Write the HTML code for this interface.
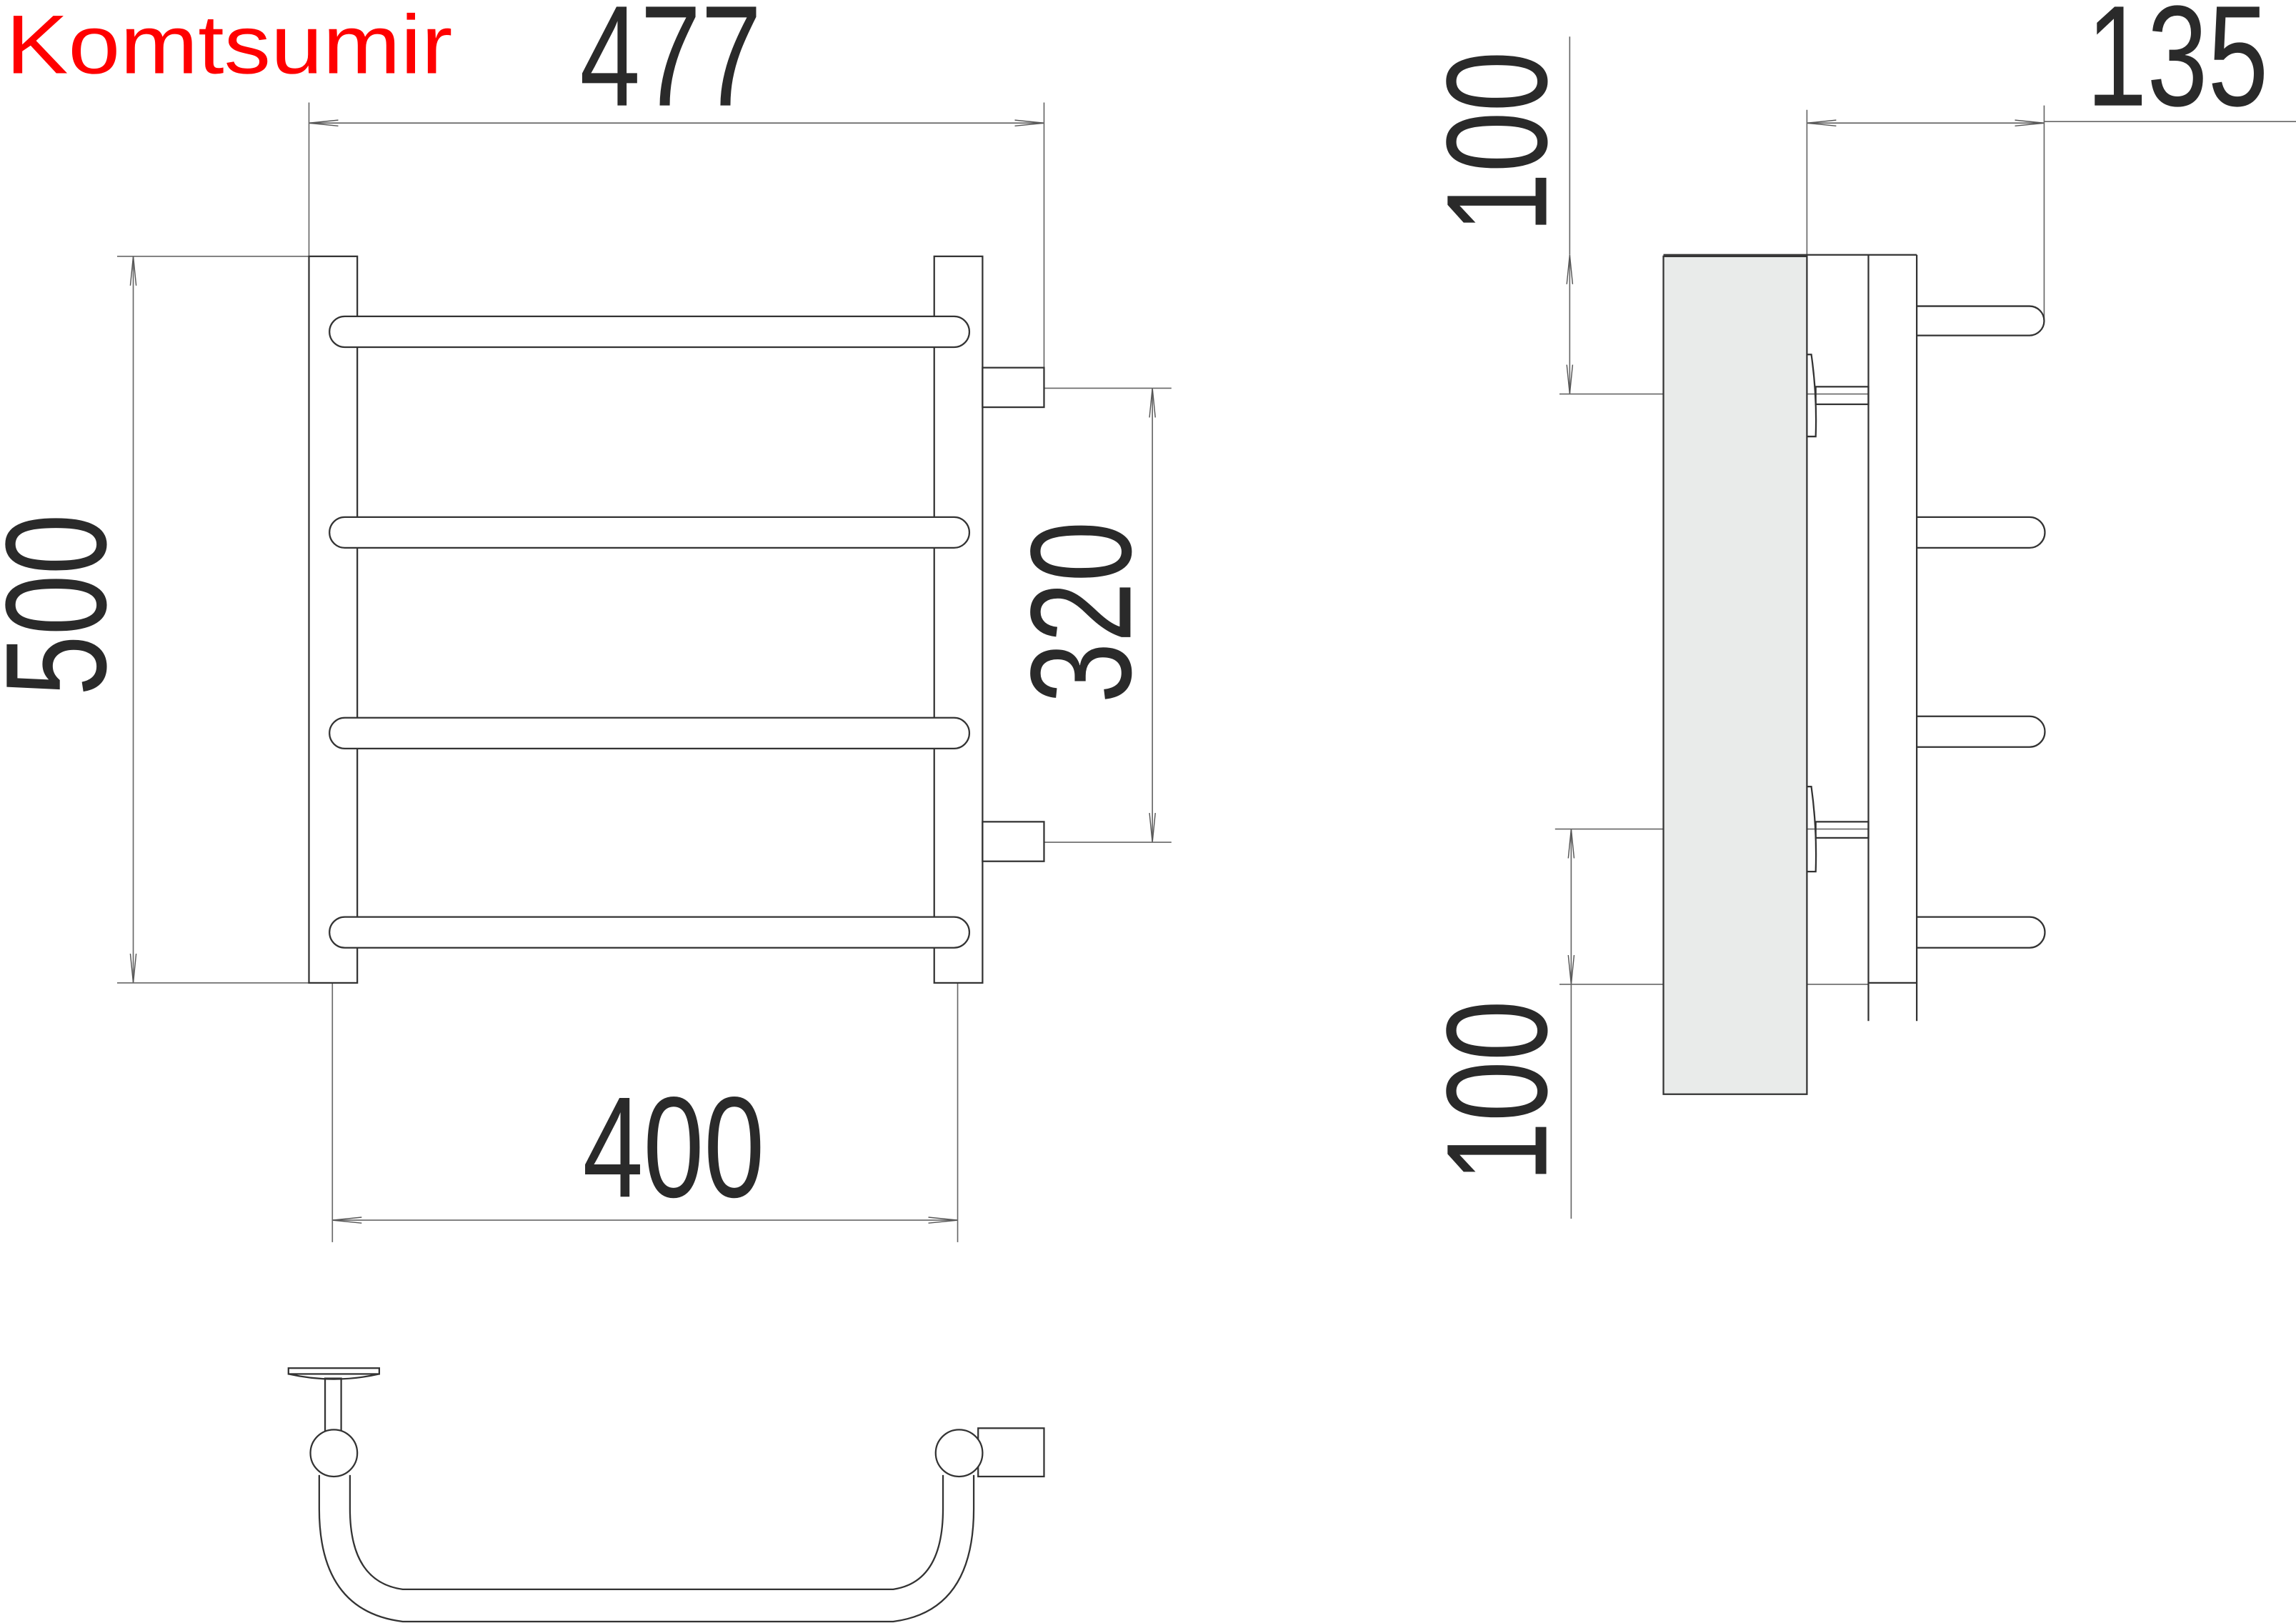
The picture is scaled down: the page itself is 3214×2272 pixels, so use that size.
<!DOCTYPE html>
<html><head><meta charset="utf-8"><style>html,body{margin:0;padding:0;background:#fff}svg{display:block}</style></head><body>
<svg width="3214" height="2272" viewBox="0 0 1568 1108" preserveAspectRatio="none" xmlns="http://www.w3.org/2000/svg">
<defs>
<marker id="a" viewBox="-20 0 20 6" refX="0" refY="3" markerWidth="20" markerHeight="6" markerUnits="userSpaceOnUse" orient="auto-start-reverse"><path d="M-20 1 L0 3 L-20 5" fill="none" stroke="#555" stroke-width="0.7"/></marker>
</defs>
<g font-family="Liberation Sans, sans-serif" fill="#2a2a2a">
<text transform="translate(4,50) scale(1.12,1)" font-size="57" fill="#f00">Komtsumir</text>
<text transform="translate(458,72) scale(0.76,1)" font-size="98" text-anchor="middle">477</text>
<text transform="translate(460,817) scale(0.76,1)" font-size="98" text-anchor="middle">400</text>
<text transform="translate(1487,72) scale(0.76,1)" font-size="98" text-anchor="middle">135</text>
<text transform="translate(72,413) rotate(-90) scale(0.76,1)" font-size="98" text-anchor="middle">500</text>
<text transform="translate(772,418) rotate(-90) scale(0.76,1)" font-size="98" text-anchor="middle">320</text>
<text transform="translate(1056,97) rotate(-90) scale(0.76,1)" font-size="98" text-anchor="middle">100</text>
<text transform="translate(1056,745) rotate(-90) scale(0.76,1)" font-size="98" text-anchor="middle">100</text>
</g>
<g fill="none" stroke="#666" stroke-width="0.8">
<line x1="211" y1="84" x2="713" y2="84" marker-start="url(#a)" marker-end="url(#a)"/>
<line x1="211" y1="70" x2="211" y2="175"/><line x1="713" y1="70" x2="713" y2="251"/>
<line x1="91" y1="175" x2="91" y2="671" marker-start="url(#a)" marker-end="url(#a)"/>
<line x1="80" y1="175" x2="211" y2="175"/><line x1="80" y1="671" x2="211" y2="671"/>
<line x1="787" y1="265" x2="787" y2="575" marker-start="url(#a)" marker-end="url(#a)"/>
<line x1="713" y1="265" x2="800" y2="265"/><line x1="713" y1="575" x2="800" y2="575"/>
<line x1="227" y1="833" x2="654" y2="833" marker-start="url(#a)" marker-end="url(#a)"/>
<line x1="227" y1="671" x2="227" y2="848"/><line x1="654" y1="671" x2="654" y2="848"/>
<line x1="1234" y1="84" x2="1396" y2="84" marker-start="url(#a)" marker-end="url(#a)"/>
<line x1="1234" y1="75" x2="1234" y2="175"/><line x1="1396" y1="72" x2="1396" y2="220"/>
<line x1="1396" y1="83" x2="1568" y2="83"/>
<line x1="1072" y1="25" x2="1072" y2="174"/>
<line x1="1072" y1="174" x2="1072" y2="269" marker-start="url(#a)" marker-end="url(#a)"/>
<line x1="1065" y1="269" x2="1276" y2="269"/>
<line x1="1073" y1="566" x2="1073" y2="672" marker-start="url(#a)" marker-end="url(#a)"/>
<line x1="1073" y1="672" x2="1073" y2="832"/>
<line x1="1062" y1="566" x2="1276" y2="566"/><line x1="1065" y1="672" x2="1276" y2="672"/>
</g>
<g fill="none" stroke="#333" stroke-width="1.1">
<rect x="211" y="175" width="33" height="496" fill="#fff"/>
<rect x="638" y="175" width="33" height="496" fill="#fff"/>
<rect x="225" y="216" width="437" height="21" rx="10.5" fill="#fff"/>
<rect x="225" y="353" width="437" height="21" rx="10.5" fill="#fff"/>
<rect x="225" y="490" width="437" height="21" rx="10.5" fill="#fff"/>
<rect x="225" y="626" width="437" height="21" rx="10.5" fill="#fff"/>
<rect x="671" y="251" width="42" height="27"/>
<rect x="671" y="561" width="42" height="27"/>
<rect x="1136" y="175" width="98" height="572" fill="#e9ebea"/>
<line x1="1136" y1="174" x2="1309" y2="174"/>
<line x1="1276" y1="174" x2="1276" y2="697"/><line x1="1309" y1="174" x2="1309" y2="697"/>
<line x1="1276" y1="671" x2="1309" y2="671"/>
<path d="M1309 209 H1386 A10 10 0 0 1 1386 229 H1309"/>
<path d="M1309 353 H1386 A10.5 10.5 0 0 1 1386 374 H1309"/>
<path d="M1309 489 H1386 A10.5 10.5 0 0 1 1386 510 H1309"/>
<path d="M1309 626 H1386 A10.5 10.5 0 0 1 1386 647 H1309"/>
<path d="M1234 242 H1237 Q1241 270 1240 298 H1234"/>
<rect x="1240" y="264" width="36" height="12"/>
<path d="M1234 537 H1237 Q1241 566 1240 595 H1234"/>
<rect x="1240" y="561" width="36" height="11"/>
<rect x="197" y="934" width="62" height="4"/>
<path d="M197 938 Q228 945 259 938"/>
<rect x="222" y="941" width="11" height="36"/>
<path d="M218 1007 V1030 Q218 1100 275 1107 H610 Q665 1100 665 1030 V1007"/>
<path d="M239 1007 V1030 Q239 1080 275 1085 H610 Q644 1080 644 1030 V1007"/>
<circle cx="228" cy="992" r="16" fill="#fff"/>
<rect x="668" y="975" width="45" height="33"/>
<circle cx="655" cy="992" r="16" fill="#fff"/>
</g>
</svg>
</body></html>
